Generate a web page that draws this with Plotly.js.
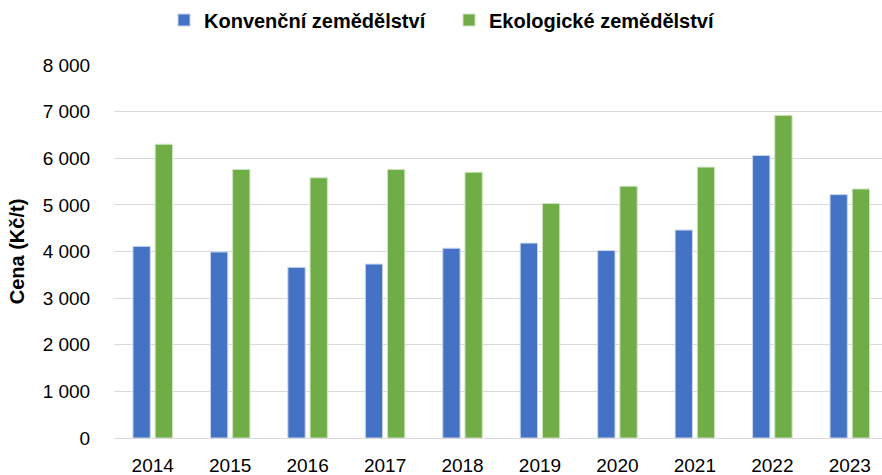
<!DOCTYPE html>
<html>
<head>
<meta charset="utf-8">
<script src="https://cdn.plot.ly/plotly-3.0.1.min.js"></script>
<style>html,body{margin:0;padding:0;background:#fff;}#chart{width:882px;height:475px;}</style>
</head>
<body>
<div id="chart"></div>
<script>
const years = ['2014','2015','2016','2017','2018','2019','2020','2021','2022','2023'];
const conventional = [4110, 3990, 3660, 3730, 4070, 4180, 4020, 4460, 6060, 5220];
const organic = [6300, 5760, 5580, 5760, 5700, 5030, 5400, 5810, 6920, 5340];
const seriesNames = ['Konvenční zemědělství', 'Ekologické zemědělství'];
const yTicks = [0, 1000, 2000, 3000, 4000, 5000, 6000, 7000, 8000];

const tickFont = {family: 'Liberation Sans, Arial, sans-serif', size: 19, color: '#000'};

const traces = [
  {type: 'bar', name: seriesNames[0], x: years, y: conventional,
   marker: {color: '#4472C4', line: {color: '#C9D6EE', width: 1}}},
  {type: 'bar', name: seriesNames[1], x: years, y: organic,
   marker: {color: '#70AD47', line: {color: '#CFE5C1', width: 1}}}
];

const layout = {
  width: 882, height: 475,
  margin: {l: 113.5, r: 0, t: 65, b: 37},
  paper_bgcolor: '#fff', plot_bgcolor: '#fff',
  separators: ', ',
  barmode: 'group',
  bargap: 0.427,
  bargroupgap: 0.22,
  showlegend: true,
  legend: {
    orientation: 'h', xref: 'container', yref: 'container',
    x: 164/882, xanchor: 'left', y: 1 - 20/475, yanchor: 'middle',
    font: {family: 'Liberation Sans, Arial, sans-serif', size: 20, color: '#000', weight: 'bold'},
    itemwidth: 30, tracegroupgap: 0, entrywidth: 240
  },
  xaxis: {
    type: 'category', range: [-0.5, 9.416], fixedrange: true,
    showgrid: false, showline: true, linecolor: '#D9D9D9', linewidth: 1,
    ticks: 'outside', ticklen: 10, tickcolor: 'rgba(0,0,0,0)',
    tickfont: tickFont
  },
  yaxis: {
    range: [0, 8000], tickvals: yTicks, tickformat: ',.0f',
    showgrid: true, gridcolor: '#D9D9D9', gridwidth: 1, zeroline: false,
    showline: false,
    ticks: 'outside', ticklen: 19, tickcolor: 'rgba(0,0,0,0)',
    tickfont: tickFont,
    title: {text: 'Cena (Kč/t)', standoff: 12,
      font: {family: 'Liberation Sans, Arial, sans-serif', size: 20, color: '#000', weight: 'bold'}}
  }
};

Plotly.newPlot('chart', traces, layout, {displayModeBar: false, staticPlot: true});
</script>
</body>
</html>
